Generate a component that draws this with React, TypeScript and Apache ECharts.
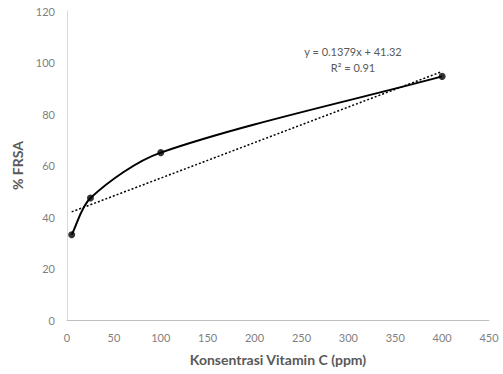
import React, { useEffect, useRef } from "react";
import * as echarts from "echarts";

const concX = [5, 25, 100, 400];
const frsaY = [33.1, 47.4, 65.0, 94.6];
const trendX = [5, 400];
const trendY = [42.0, 96.5];
const equationText = "y = 0.1379x + 41.32";
const r2Text = "R² = 0.91";
const xTitle = "Konsentrasi Vitamin C (ppm)";
const yTitle = "% FRSA";

const FONT = "Lato, 'Open Sans', sans-serif";

export default function App() {
  const ref = useRef<HTMLDivElement>(null);
  useEffect(() => {
    if (!ref.current) return;
    const chart = echarts.init(ref.current, undefined, { renderer: "svg" });
    const pts = concX.map((x, i) => [x, frsaY[i]]);
    chart.setOption({
      animation: false,
      textStyle: { fontFamily: FONT },
      grid: { left: 67, right: 14, top: 11, bottom: 54, containLabel: false },
      xAxis: {
        type: "value",
        min: 0,
        max: 450,
        interval: 50,
        name: xTitle,
        nameLocation: "middle",
        nameGap: 32,
        nameTextStyle: { fontFamily: FONT, fontSize: 14, fontWeight: "bold", color: "#595959" },
        axisLine: { show: true, lineStyle: { color: "#bfbfbf", width: 1 } },
        axisTick: { show: false },
        splitLine: { show: false },
        axisLabel: { fontFamily: FONT, fontSize: 11, color: "#7f7f7f", margin: 12 },
      },
      yAxis: {
        type: "value",
        min: 0,
        max: 120,
        interval: 20,
        name: yTitle,
        nameLocation: "middle",
        nameGap: 38,
        nameRotate: 90,
        nameTextStyle: { fontFamily: FONT, fontSize: 14, fontWeight: "bold", color: "#595959" },
        axisLine: { show: true, lineStyle: { color: "#d9d9d9", width: 1 } },
        axisTick: { show: false },
        splitLine: { show: false },
        axisLabel: { fontFamily: FONT, fontSize: 11, color: "#7f7f7f", margin: 12 },
      },
      series: [
        {
          type: "line",
          data: trendX.map((x, i) => [x, trendY[i]]),
          symbol: "none",
          lineStyle: { color: "#000", width: 1.5, type: [2, 2] },
          z: 1,
        },
        {
          type: "custom",
          data: pts,
          z: 2,
          renderItem: (params: any, api: any) => {
            if (params.dataIndex !== 0) return null;
            const p = pts.map((d) => api.coord(d));
            const n = p.length;
            const norm = (v: number[]) => {
              const l = Math.hypot(v[0], v[1]) || 1;
              return [v[0] / l, v[1] / l];
            };
            const dir = p.map((_, i) => {
              const a = p[Math.max(0, i - 1)];
              const b = p[Math.min(n - 1, i + 1)];
              return norm([b[0] - a[0], b[1] - a[1]]);
            });
            const k = 0.3;
            let d = `M${p[0][0]},${p[0][1]}`;
            for (let i = 0; i < n - 1; i++) {
              const p1 = p[i];
              const p2 = p[i + 1];
              const len = Math.hypot(p2[0] - p1[0], p2[1] - p1[1]) * k;
              const c1x = p1[0] + dir[i][0] * len;
              const c1y = p1[1] + dir[i][1] * len;
              const c2x = p2[0] - dir[i + 1][0] * len;
              const c2y = p2[1] - dir[i + 1][1] * len;
              d += ` C${c1x},${c1y} ${c2x},${c2y} ${p2[0]},${p2[1]}`;
            }
            return {
              type: "path",
              shape: { pathData: d },
              style: { stroke: "#000", lineWidth: 2, fill: "none" },
            };
          },
        },
        {
          type: "scatter",
          data: pts,
          symbol: "circle",
          symbolSize: 7,
          itemStyle: { color: "#000" },
          z: 3,
        },
      ],
      graphic: [
        {
          type: "text",
          x: 353,
          y: 46,
          style: {
            text: equationText,
            fontFamily: FONT,
            fontSize: 11,
            fill: "#595959",
            align: "center",
            verticalAlign: "top",
          },
        },
        {
          type: "text",
          x: 353,
          y: 62,
          style: {
            text: r2Text,
            fontFamily: FONT,
            fontSize: 11,
            fill: "#595959",
            align: "center",
            verticalAlign: "top",
          },
        },
      ],
    });
    return () => chart.dispose();
  }, []);
  return <div ref={ref} style={{ width: 503, height: 374, position: "absolute", left: 0, top: 0 }} />;
}
